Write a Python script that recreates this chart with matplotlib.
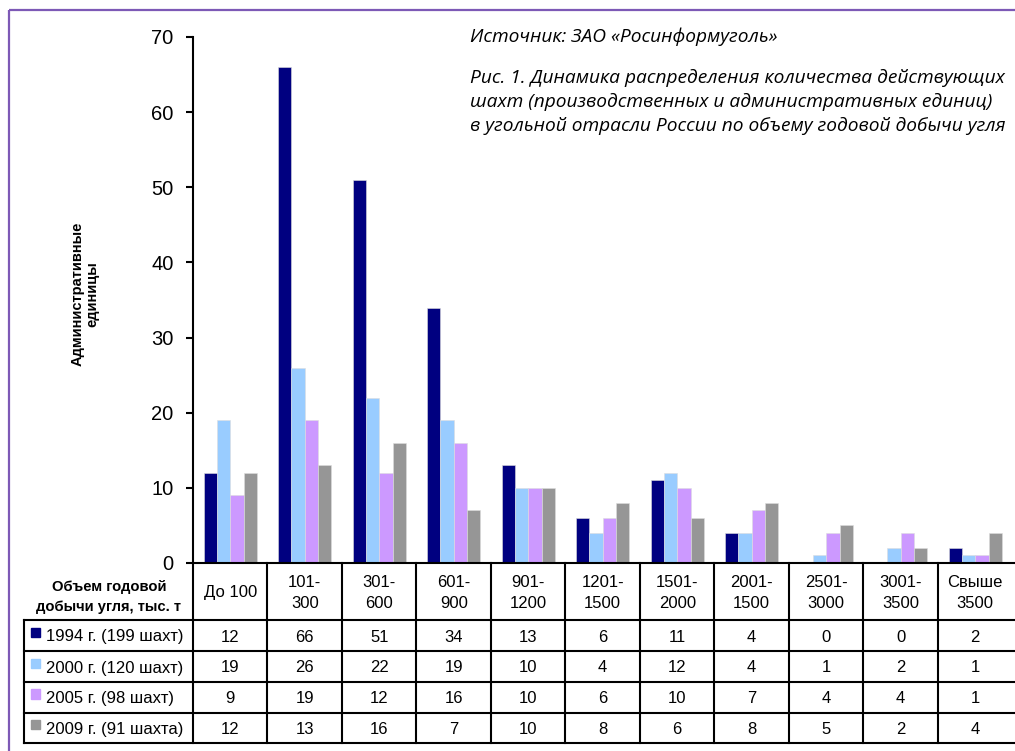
import numpy as np
import matplotlib
matplotlib.use("Agg")
import matplotlib.pyplot as plt

plt.rcParams['font.family'] = ['Liberation Sans', 'DejaVu Sans']

categories = ["До 100", "101-\n300", "301-\n600", "601-\n900", "901-\n1200",
              "1201-\n1500", "1501-\n2000", "2001-\n1500", "2501-\n3000",
              "3001-\n3500", "Свыше\n3500"]
series_names = ["1994 г. (199 шахт)", "2000 г. (120 шахт)",
                "2005 г. (98 шахт)", "2009 г. (91 шахта)"]
mines_1994 = [12, 66, 51, 34, 13, 6, 11, 4, 0, 0, 2]
mines_2000 = [19, 26, 22, 19, 10, 4, 12, 4, 1, 2, 1]
mines_2005 = [9, 19, 12, 16, 10, 6, 10, 7, 4, 4, 1]
mines_2009 = [12, 13, 16, 7, 10, 8, 6, 8, 5, 2, 4]
colors = ["#000080", "#99ccff", "#cc99ff", "#969696"]

W, H = 1015, 751
fig = plt.figure(figsize=(W / 100, H / 100), dpi=100)
fig.patch.set_facecolor("white")

# bar chart area, pixel layout of the page
x_left, x_right = 193, 1012.5
y_zero, y_top = 563, 37
ax = fig.add_axes([x_left / W, 1 - y_zero / H, (x_right - x_left) / W, (y_zero - y_top) / H])

all_series = [mines_1994, mines_2000, mines_2005, mines_2009]
x = np.arange(len(categories))
bw = 0.178
for k, (vals, c) in enumerate(zip(all_series, colors)):
    ax.bar(x + (k - 1.5) * bw, vals, width=bw, color=c, edgecolor="#dddddd", linewidth=0.4)

ax.set_xlim(-0.5, len(categories) - 0.5)
ax.set_ylim(0, 70)
ax.set_yticks(range(0, 71, 10))
ax.tick_params(axis="y", direction="out", length=5, width=1.5, pad=9, labelsize=14.5)
ax.tick_params(axis="x", length=0, labelbottom=False)
for s in ["top", "right", "bottom"]:
    ax.spines[s].set_visible(False)
ax.spines["left"].set_linewidth(1.5)
ax.set_facecolor("none")

ax.text(-0.132, 0.512, "Административные\nединицы", transform=ax.transAxes, rotation=90,
        ha="center", va="center", fontsize=10.5, fontweight="bold", linespacing=1.1)

# overlay in page pixels for the data table and captions
ov = fig.add_axes([0, 0, 1, 1])
ov.set_xlim(0, W)
ov.set_ylim(H, 0)
ov.set_axis_off()
ov.set_facecolor("none")

purple = "#7d59b6"
ov.plot([9, 9], [10, H], color=purple, lw=1.6, solid_capstyle="butt")
ov.plot([9, W], [10, 10], color=purple, lw=1.6, solid_capstyle="butt")

cw = (x_right - x_left) / len(categories)
rows_y = [620, 651, 682, 712.5, 743]
lab_left = 24
lw = 1.5
ov.plot([x_left, W], [y_zero, y_zero], color="black", lw=lw)
for y in rows_y:
    ov.plot([lab_left, W], [y, y], color="black", lw=lw)
for i in range(len(categories)):
    xc = x_left + i * cw
    ov.plot([xc, xc], [y_zero, rows_y[-1]], color="black", lw=lw)
ov.plot([lab_left, lab_left], [rows_y[0], rows_y[-1]], color="black", lw=lw)

for i, cat in enumerate(categories):
    ov.text(x_left + (i + 0.5) * cw, (y_zero + rows_y[0]) / 2 + 1.5, cat, ha="center", va="center",
            fontsize=12, linespacing=1.55)

ov.text(109, 597, "Объем годовой\nдобычи угля, тыс. т", ha="center", va="center",
        fontsize=10.6, fontweight="bold", linespacing=1.5)

for r, (name, vals, c) in enumerate(zip(series_names, all_series, colors)):
    y0, y1 = rows_y[r], rows_y[r + 1]
    ym = (y0 + y1) / 2
    ov.add_patch(plt.Rectangle((31, ym - 8), 9.5, 9.5, color=c))
    ov.text(46, ym + 1.5, name, ha="left", va="center", fontsize=12)
    for i, v in enumerate(vals):
        ov.text(x_left + (i + 0.5) * cw, ym + 1.5, str(v), ha="center", va="center", fontsize=12)

cap_font = dict(family=["Open Sans", "DejaVu Sans"], style="italic", fontsize=13.8)
ov.text(470, 37, "Источник: ЗАО «Росинформуголь»", ha="left", va="center", **cap_font)
ov.text(470, 102, "Рис. 1. Динамика распределения количества действующих\n"
        "шахт (производственных и административных единиц)\n"
        "в угольной отрасли России по объему годовой добычи угля",
        ha="left", va="center", linespacing=1.42, **cap_font)

fig.savefig("out.png", dpi=100)
